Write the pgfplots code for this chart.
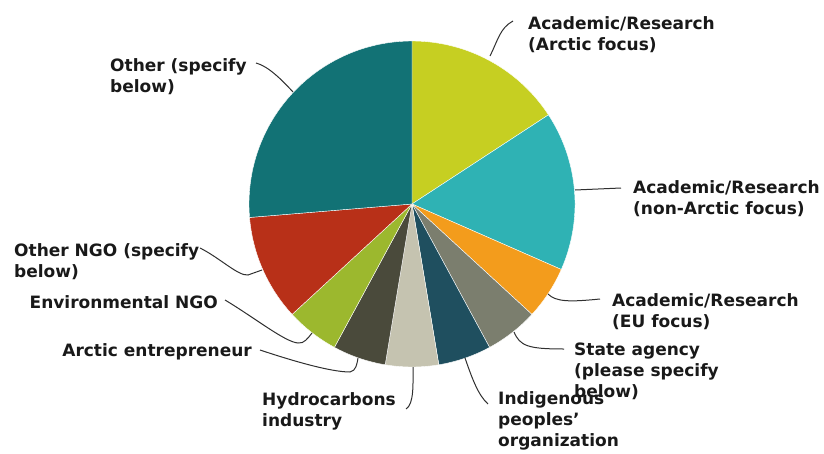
\documentclass[border=0pt]{standalone}
\usepackage{pgfplots}
\pgfplotsset{compat=1.18}
\usepackage{fontspec}
\setmainfont{DejaVu Sans}

\definecolor{cArc}{HTML}{C6CF22}
\definecolor{cNon}{HTML}{2FB2B4}
\definecolor{cEU}{HTML}{F39C1C}
\definecolor{cSta}{HTML}{7B7E6E}
\definecolor{cInd}{HTML}{1F4F5F}
\definecolor{cHyd}{HTML}{C5C3B0}
\definecolor{cEnt}{HTML}{4A4A3B}
\definecolor{cEnv}{HTML}{9CB82E}
\definecolor{cONG}{HTML}{B83018}
\definecolor{cOth}{HTML}{127275}
\definecolor{lead}{HTML}{303030}

\begin{document}
\begin{tikzpicture}
\begin{axis}[
    scale only axis, width=824bp, height=454bp,
    xmin=0, xmax=824, ymin=0, ymax=454, y dir=reverse,
    hide axis, clip=false,
    ]
% keep the whole canvas in the bounding box
\path (axis cs:0,0) rectangle (axis cs:824,454);

% counts per answer, clockwise from 12 o'clock (total 19)
\gdef\cum{0}
\foreach \v/\c in {3/cArc, 3/cNon, 1/cEU, 1/cSta, 1/cInd, 1/cHyd, 1/cEnt, 1/cEnv, 2/cONG, 5/cOth}{
    \pgfmathsetmacro\a{90-\cum*360/19}
    \pgfmathsetmacro\b{90-(\cum+\v)*360/19}
    \edef\tmp{\noexpand\addplot[fill=\c, draw=white, line width=0.4pt, domain=\b:\a, samples=80]
        ({412+163*cos(x)},{204-163*sin(x)}) -- (axis cs:412,204) -- cycle;}
    \tmp
    \pgfmathsetmacro\n{\cum+\v}\xdef\cum{\n}
}

\tikzset{lab/.style={anchor=north west, inner sep=0pt, align=left,
    font=\fontsize{17bp}{21bp}\selectfont\bfseries, text=black!90}}
\tikzset{ll/.style={draw=lead, line width=1bp}}

\draw[ll] (axis cs:490,56) .. controls (axis cs:498,40) and (axis cs:500,28) .. (axis cs:513,21);
\node[lab] at (axis cs:528,16) {Academic/Research\\(Arctic focus)};

\draw[ll] (axis cs:575,190) -- (axis cs:621,188);
\node[lab] at (axis cs:633,180) {Academic/Research\\(non-Arctic focus)};

\draw[ll] (axis cs:548,294) .. controls (axis cs:556,302) and (axis cs:570,302) .. (axis cs:600,299);
\node[lab] at (axis cs:612,293) {Academic/Research\\(EU focus)};

\draw[ll] (axis cs:514,332) .. controls (axis cs:520,346) and (axis cs:528,349) .. (axis cs:564,349);
\node[lab] at (axis cs:574,343) {State agency\\(please specify\\below)};

\draw[ll] (axis cs:465,358) .. controls (axis cs:472,378) and (axis cs:478,395) .. (axis cs:488,404);
\node[lab] at (axis cs:498,391) {Indigenous\\peoples'\\organization};

\draw[ll] (axis cs:413,367) .. controls (axis cs:413,385) and (axis cs:414,404) .. (axis cs:406,409);
\node[lab] at (axis cs:262,392) {Hydrocarbons\\industry};

\draw[ll] (axis cs:260,350) .. controls (axis cs:290,360) and (axis cs:330,372) .. (axis cs:350,372)
    .. controls (axis cs:356,371) and (axis cs:357,364) .. (axis cs:358,358);
\node[lab, anchor=north east] at (axis cs:252,343) {Arctic entrepreneur};

\draw[ll] (axis cs:225,300) .. controls (axis cs:255,318) and (axis cs:285,342) .. (axis cs:298,343)
    .. controls (axis cs:304,344) and (axis cs:308,338) .. (axis cs:312,333);
\node[lab, anchor=north east] at (axis cs:218,295) {Environmental NGO};

\draw[ll] (axis cs:200,248) .. controls (axis cs:220,258) and (axis cs:238,276) .. (axis cs:248,275)
    -- (axis cs:262,270);
\node[lab] at (axis cs:14,243) {Other NGO (specify\\below)};

\draw[ll] (axis cs:256,63) .. controls (axis cs:268,66) and (axis cs:282,80) .. (axis cs:293,92);
\node[lab] at (axis cs:110,58) {Other (specify\\below)};
\end{axis}
\end{tikzpicture}
\end{document}
